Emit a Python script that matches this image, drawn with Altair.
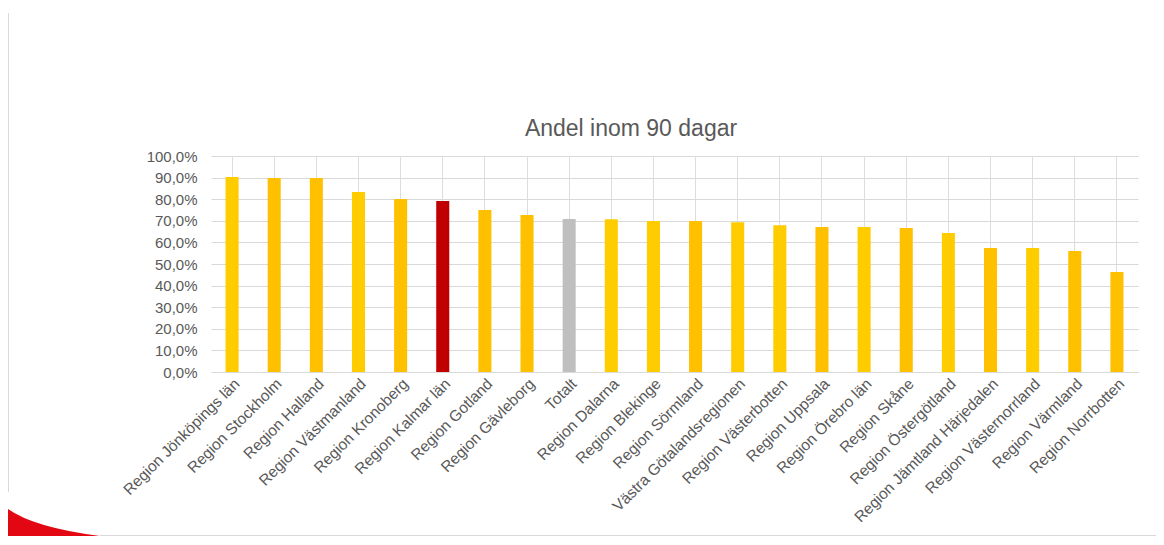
import altair as alt
import pandas as pd

categories = [
    "Region Jönköpings län", "Region Stockholm", "Region Halland", "Region Västmanland",
    "Region Kronoberg", "Region Kalmar län", "Region Gotland", "Region Gävleborg",
    "Totalt", "Region Dalarna", "Region Blekinge", "Region Sörmland",
    "Västra Götalandsregionen", "Region Västerbotten", "Region Uppsala", "Region Örebro län",
    "Region Skåne", "Region Östergötland", "Region Jämtland Härjedalen", "Region Västernorrland",
    "Region Värmland", "Region Norrbotten",
]
values = [
    90.3, 89.8, 89.8, 83.3, 80.1, 79.2, 75.0, 72.7, 70.8, 70.7, 69.9, 69.9,
    69.3, 67.9, 67.1, 67.1, 66.7, 64.4, 57.4, 57.4, 56.0, 46.3,
]
colors = [
    "#FFCC00", "#FFC000", "#FFC000", "#FFCC00", "#FFC000", "#C00000", "#FFC000", "#FFC000",
    "#BFBFBF", "#FFCC00", "#FFCC00", "#FFC000", "#FFCC00", "#FFCC00", "#FFC000", "#FFCC00",
    "#FFC000", "#FFCC00", "#FFC000", "#FFCC00", "#FFC000", "#FFC000",
]
y_ticks = [0, 10, 20, 30, 40, 50, 60, 70, 80, 90, 100]
title_text = "Andel inom 90 dagar"

df = pd.DataFrame({"cat": categories, "val": values, "col": colors})
one = pd.DataFrame({"a": [0]})

FONT = "Liberation Sans"
GRAY = "#595959"

bars = alt.Chart(df).mark_bar().encode(
    x=alt.X("cat:N", sort=None, title=None,
            scale=alt.Scale(paddingInner=0.69, paddingOuter=0.345),
            axis=alt.Axis(labelAngle=-45, labelFontSize=15.5, labelColor=GRAY, labelFont=FONT,
                          ticks=False, domainColor="#D9D9D9", labelPadding=4, labelLimit=300)),
    y=alt.Y("val:Q", title=None,
            scale=alt.Scale(domain=[0, 100], nice=False),
            axis=alt.Axis(values=y_ticks, labelFontSize=15, labelColor=GRAY, labelFont=FONT,
                          ticks=False, domain=False, gridColor="#D9D9D9", labelPadding=14,
                          labelExpr="replace(format(datum.value, '.1f'), '.', ',') + '%'")),
    color=alt.Color("col:N", scale=None),
)

title = alt.Chart(one).mark_text(
    text=title_text, fontSize=23, font=FONT, color=GRAY, align="center", baseline="alphabetic"
).encode(x=alt.value(420), y=alt.value(-20))

left_rule = alt.Chart(one).mark_rule(color="#D9D9D9", strokeWidth=1).encode(
    x=alt.value(-202.5), y=alt.value(-143), y2=alt.value(336))
bottom_rule = alt.Chart(one).mark_rule(color="#D9D9D9", strokeWidth=1).encode(
    x=alt.value(-111), x2=alt.value(945), y=alt.value(379.5))
swoosh = alt.Chart(one).mark_point(
    shape="M -0.92 -0.27 Q -0.4 0.1 0.92 0.27 L -0.92 0.27 Z",
    filled=True, color="#E30613", opacity=1, size=10000,
).encode(x=alt.value(-157), y=alt.value(366.5))

chart = alt.layer(bars, title, left_rule, bottom_rule, swoosh).properties(
    width=927, height=216,
    autosize=alt.AutoSizeParams(type="none"),
    padding={"left": 203, "top": 148, "right": 18, "bottom": 165},
).configure_view(stroke=None).configure_axis(grid=True)

chart.save("out.html", embed_options={"renderer": "svg", "actions": False})
